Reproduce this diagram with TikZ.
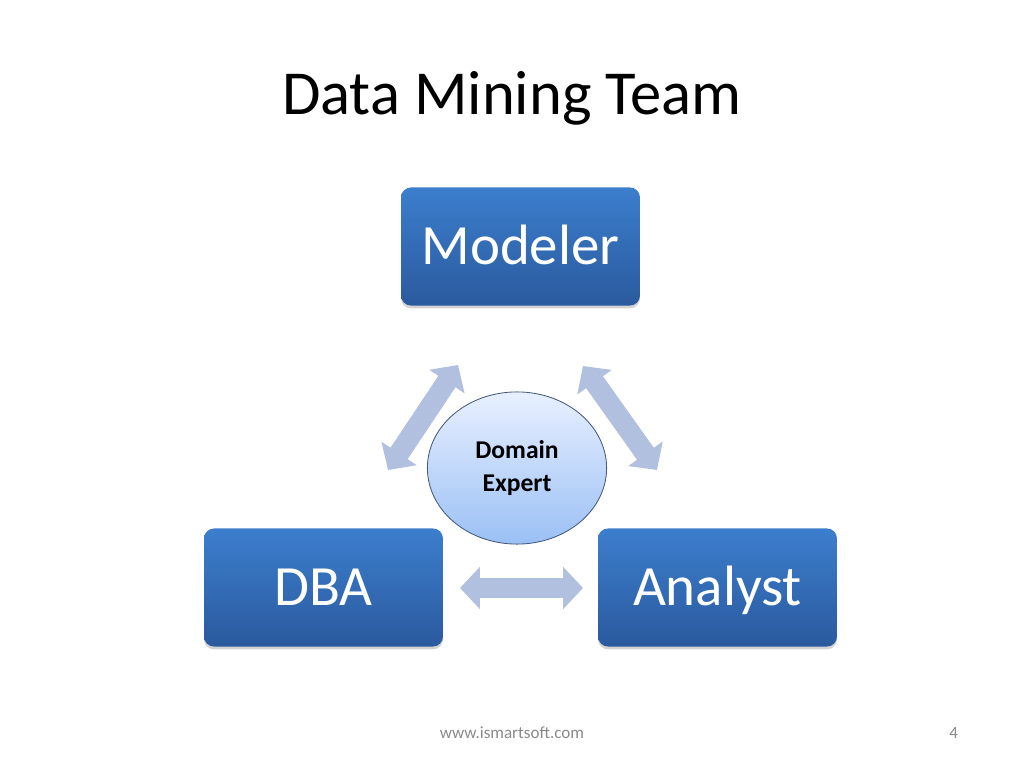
\documentclass[tikz,border=0pt]{standalone}
\usepackage{fontspec}
\setmainfont{Carlito}
\usetikzlibrary{arrows.meta,shapes.geometric,shadows}
\definecolor{boxtop}{RGB}{60,126,205}
\definecolor{boxbot}{RGB}{42,90,158}
\definecolor{linkblue}{RGB}{176,192,222}
\definecolor{expertedge}{RGB}{70,90,125}
\definecolor{experttop}{RGB}{232,240,255}
\definecolor{expertbot}{RGB}{155,192,245}
\definecolor{footgray}{RGB}{137,137,137}

\begin{document}
\begin{tikzpicture}[x=0.703125pt, y=-0.703125pt,
  role/.style={rectangle, rounded corners=7pt, minimum width=168pt, minimum height=83pt,
    top color=boxtop, bottom color=boxbot, text=white,
    font=\fontsize{40}{48}\selectfont, text height=26pt, text depth=0pt,
    drop shadow={shadow xshift=0pt, shadow yshift=-2pt, opacity=0.35}},
  expert/.style={ellipse, draw=expertedge, line width=0.6pt, top color=experttop,
    bottom color=expertbot, minimum width=126pt, minimum height=107pt, inner sep=0pt,
    align=center, font=\fontsize{18}{23}\selectfont\bfseries},
  link/.style={draw=linkblue, line width=14.5pt,
    {Triangle[length=14pt,width=29pt]}-{Triangle[length=14pt,width=29pt]}}]
  \useasboundingbox (0,0) rectangle (1024,768);

  \node[anchor=base, font=\fontsize{44}{53}\selectfont] (title) at (512,115) {Data Mining Team};

  \node[role] (modeler) at (520.5,246.5) {Modeler};
  \node[role] (dba) at (323.5,587.5) {DBA};
  \node[role] (analyst) at (717.5,587.5) {Analyst};
  \node[expert] (expert) at (517,468) {Domain\\Expert};

  \coordinate (l1) at (388,470);
  \coordinate (l2) at (458,365);
  \coordinate (r1) at (583,366);
  \coordinate (r2) at (657,470);
  \coordinate (b1) at (460,588);
  \coordinate (b2) at (583,588);

  \draw[link] (l1)--(l2);
  \draw[link] (r1)--(r2);
  \draw[link] (b1)--(b2);

  \node[anchor=base, text=footgray, font=\fontsize{12}{14}\selectfont] (site) at (512,738) {www.ismartsoft.com};
  \node[anchor=base east, text=footgray, font=\fontsize{12}{14}\selectfont] (page) at (963,738) {4};

\end{tikzpicture}
\end{document}
